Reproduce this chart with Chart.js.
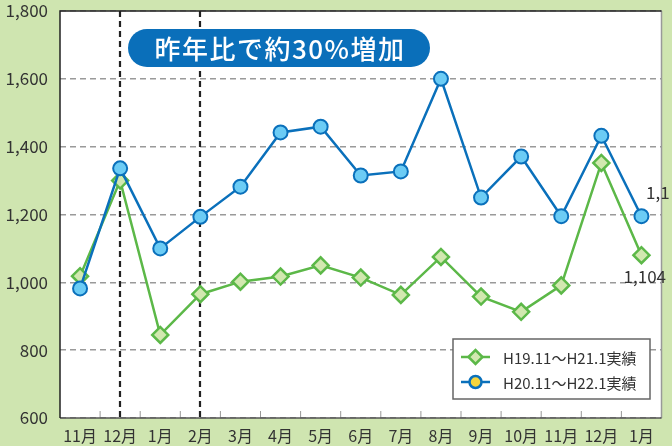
<!DOCTYPE html>
<html>
<head>
<meta charset="utf-8">
<script src="https://cdn.jsdelivr.net/npm/chart.js@4"></script>
<style>
html, body { margin: 0; padding: 0; background: #cfe5b0; }
canvas { display: block; }
</style>
</head>
<body>
<canvas id="myChart" width="672" height="446"></canvas>
<script>
var months = ['11月', '12月', '1月', '2月', '3月', '4月', '5月', '6月', '7月', '8月', '9月', '10月', '11月', '12月', '1月'];
var prevYear = [1018, 1300, 845, 965, 1002, 1017, 1050, 1014, 963, 1075, 958, 913, 991, 1352, 1080];
var thisYear = [982, 1336, 1100, 1193, 1282, 1442, 1459, 1315, 1327, 1600, 1250, 1371, 1195, 1432, 1195];
var seriesNames = ['H19.11～H21.1実績', 'H20.11～H22.1実績'];
var yTicks = [600, 800, 1000, 1200, 1400, 1600, 1800];
var markerMonths = [1, 3]; // 12月, 2月 dashed lines
var badgeText = '昨年比で約30%増加';
var endLabels = ['1,1', '1,104'];

var FONT = "'Noto Sans CJK JP', 'Noto Sans', sans-serif";
Chart.defaults.font.family = FONT;
Chart.defaults.color = '#333';

var decor = {
    id: 'decor',
    beforeDraw: function(chart) {
        var a = chart.chartArea, c = chart.ctx;
        c.save();
        c.fillStyle = '#fff';
        c.fillRect(a.left, a.top, a.right - a.left, a.bottom - a.top);
        c.restore();
    },
    beforeDatasetsDraw: function(chart) {
        var a = chart.chartArea, c = chart.ctx, x = chart.scales.x;
        c.save();
        // small inner ticks between months
        c.strokeStyle = '#999';
        c.lineWidth = 1;
        for (var i = 0; i < months.length - 1; i++) {
            var px = (x.getPixelForValue(i) + x.getPixelForValue(i + 1)) / 2;
            c.beginPath();
            c.moveTo(px, a.bottom - 7);
            c.lineTo(px, a.bottom);
            c.stroke();
        }
        // dashed black verticals
        c.strokeStyle = '#222';
        c.lineWidth = 2.2;
        c.setLineDash([6, 4]);
        markerMonths.forEach(function(m) {
            var px = Math.round(x.getPixelForValue(m));
            c.beginPath();
            c.moveTo(px, a.top);
            c.lineTo(px, a.bottom);
            c.stroke();
        });
        c.setLineDash([]);
        // frame
        c.lineWidth = 1.5;
        c.strokeStyle = '#999';
        c.beginPath();
        c.moveTo(a.right, a.top);
        c.lineTo(a.right, a.bottom);
        c.stroke();
        c.strokeStyle = '#555';
        c.beginPath();
        c.moveTo(a.left, a.bottom);
        c.lineTo(a.right, a.bottom);
        c.stroke();
        c.strokeStyle = '#222';
        c.beginPath();
        c.moveTo(a.right, a.top);
        c.lineTo(a.left, a.top);
        c.lineTo(a.left, a.bottom);
        c.stroke();
        c.restore();
    },
    afterDraw: function(chart) {
        var c = chart.ctx, a = chart.chartArea;
        var ds = chart.data.datasets;
        c.save();
        // badge
        var bx = 128, by = 29, bw = 302, bh = 38, r = bh / 2;
        c.fillStyle = '#0a6fba';
        c.beginPath();
        c.moveTo(bx + r, by);
        c.lineTo(bx + bw - r, by);
        c.arc(bx + bw - r, by + r, r, -Math.PI / 2, Math.PI / 2);
        c.lineTo(bx + r, by + bh);
        c.arc(bx + r, by + r, r, Math.PI / 2, Math.PI * 1.5);
        c.closePath();
        c.fill();
        c.fillStyle = '#fff';
        c.font = '500 26px ' + FONT;
        c.letterSpacing = '1.5px';
        c.textAlign = 'center';
        c.textBaseline = 'middle';
        c.fillText(badgeText, bx + bw / 2 + 1, by + bh / 2 + 1);
        c.letterSpacing = '0px';

        // end value labels
        c.fillStyle = '#333';
        c.font = '17px ' + FONT;
        c.textAlign = 'left';
        c.fillText(endLabels[0], 646, 193);
        c.textAlign = 'right';
        c.fillText(endLabels[1], 666, 277);

        // legend
        var lx = 453, ly = 339, lw = 197, lh = 60;
        c.fillStyle = '#fff';
        c.fillRect(lx, ly, lw, lh);
        c.strokeStyle = '#666';
        c.lineWidth = 1.5;
        c.strokeRect(lx, ly, lw, lh);
        var rows = [{d: ds[0], y: 357, fill: ds[0].pointBackgroundColor, style: 'rectRot', rad: 7},
                    {d: ds[1], y: 382, fill: '#f7d63c', style: 'circle', rad: 6}];
        rows.forEach(function(row, k) {
            c.strokeStyle = row.d.borderColor;
            c.lineWidth = 2.5;
            c.beginPath();
            c.moveTo(461, row.y);
            c.lineTo(490, row.y);
            c.stroke();
            c.fillStyle = row.fill;
            c.lineWidth = 2.5;
            Chart.helpers.drawPoint(c, {pointStyle: row.style, radius: row.rad, borderWidth: 2.5}, 475.5, row.y);
            c.fillStyle = '#333';
            c.font = '15px ' + FONT;
            c.textAlign = 'left';
            c.textBaseline = 'middle';
            c.fillText(seriesNames[k], 503, row.y + 1);
        });
        c.restore();
    }
};

var ctx = document.getElementById('myChart');
var myLineChart = new Chart(ctx, {
    type: 'line',
    data: {
        labels: months,
        datasets: [{
            label: seriesNames[0],
            data: prevYear,
            borderColor: '#5cb848',
            borderWidth: 2.5,
            pointStyle: 'rectRot',
            pointRadius: 8,
            pointBorderWidth: 2.5,
            pointBackgroundColor: '#d2e8b0',
            pointBorderColor: '#5cb848',
            tension: 0,
            order: 2
        }, {
            label: seriesNames[1],
            data: thisYear,
            borderColor: '#0a70bb',
            borderWidth: 2.5,
            pointStyle: 'circle',
            pointRadius: 7,
            pointBorderWidth: 2,
            pointBackgroundColor: '#6cccf5',
            pointBorderColor: '#0a70bb',
            tension: 0,
            order: 1
        }]
    },
    options: {
        responsive: false,
        animation: false,
        devicePixelRatio: 1,
        layout: { padding: { top: 11, right: 2, left: 0, bottom: 0 } },
        plugins: {
            legend: { display: false },
            tooltip: { enabled: false }
        },
        scales: {
            x: {
                offset: true,
                grid: { display: false, drawTicks: false },
                border: { display: false },
                ticks: { padding: 8, font: { size: 16 }, color: '#333', maxRotation: 0, autoSkip: false },
                afterFit: function(scale) { scale.height = 28; scale.paddingLeft = 0; scale.paddingRight = 0; }
            },
            y: {
                min: yTicks[0],
                max: yTicks[yTicks.length - 1],
                afterBuildTicks: function(scale) {
                    scale.ticks = yTicks.map(function(v) { return {value: v}; });
                },
                grid: { color: '#9a9a9a', lineWidth: 1.5, drawTicks: false },
                border: { display: false, dash: [6, 4] },
                ticks: {
                    padding: 12,
                    font: { size: 17 },
                    color: '#333',
                    callback: function(v) { return v.toLocaleString('en-US'); }
                },
                afterFit: function(scale) { scale.width = 60; scale.paddingTop = 0; scale.paddingBottom = 0; }
            }
        }
    },
    plugins: [decor]
});
</script>
</body>
</html>
